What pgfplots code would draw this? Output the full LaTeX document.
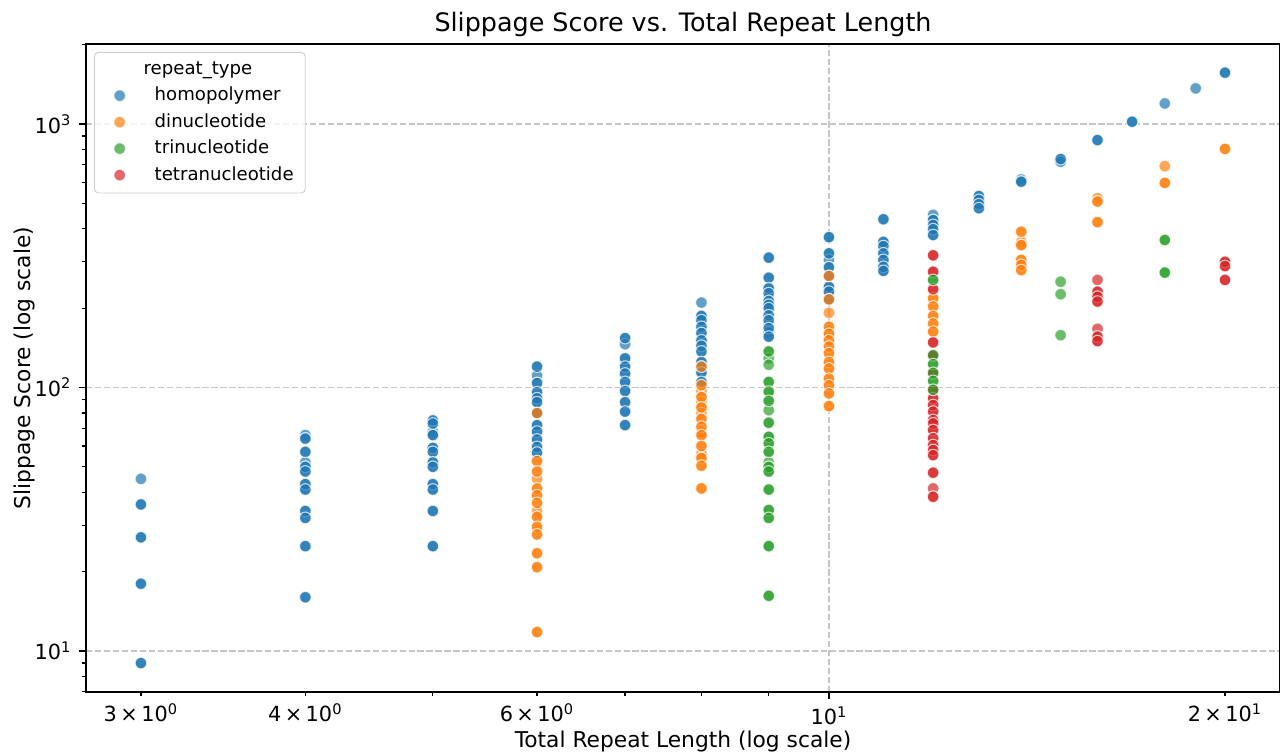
\documentclass[border=0pt]{standalone}
\usepackage{fontspec}
\setmainfont{DejaVu Sans}
\usepackage{pgfplots}
\usepackage{pgfplotstable}
\pgfplotsset{compat=1.18}
\definecolor{cblue}{HTML}{1F77B4}
\definecolor{corange}{HTML}{FF7F0E}
\definecolor{cgreen}{HTML}{2CA02C}
\definecolor{cred}{HTML}{D62728}

\pgfplotstableread{
x y d
3 45 0
3 36 1
3 27 1
3 18 1
3 9 1
4 66 0
4 64 1
4 57 1
4 52 0
4 50 1
4 48 1
4 43 1
4 41 1
4 34 1
4 32 1
4 25 1
4 16 1
5 75 1
5 73 1
5 68 0
5 66 1
5 59 1
5 57 1
5 52 1
5 50 1
5 43 1
5 41 1
5 34 1
5 25 1
6 120 1
6 111 0
6 104 1
6 96 1
6 91 1
6 88 1
6 80 1
6 72 1
6 68 1
6 63.5 1
6 59.5 1
6 56.6 1
7 154 1
7 146 0
7 129 1
7 120 1
7 113 1
7 105 1
7 97 1
7 88 1
7 81 1
7 72 1
8 210 0
8 187 1
8 180 1
8 170 1
8 161 1
8 151 1
8 144 1
8 137 1
8 125 1
8 120 1
8 114 1
8 105 1
9 311 1
9 261 1
9 238 1
9 228 1
9 220 0
9 213 1
9 206 1
9 200 1
9 188 1
9 180 1
9 174 0
9 168 1
9 162 0
9 156 1
10 372 1
10 323 1
10 305 0
10 286 1
10 265 1
10 241 1
10 231 1
10 216 1
11 435 1
11 357 1
11 344 1
11 323 1
11 305 1
11 287 1
11 277 1
12 452 0
12 432 1
12 414 1
12 399 1
12 379 1
13 533 1
13 515 1
13 496 1
13 479 1
14 616 0
14 604 1
15 736 1
15 719 0
16 869 1
17 1020 1
18 1197 0
19 1365 0
20 1566 1
}\homotab

\pgfplotstableread{
x y d
6 80 1
6 52.6 1
6 48 1
6 45 0
6 41.4 1
6 39 1
6 36.5 1
6 34 0
6 32.3 1
6 29.6 1
6 27.7 1
6 23.5 1
6 20.8 1
6 11.8 1
8 120 1
8 102 1
8 97 0
8 92 1
8 88 0
8 84 1
8 80 0
8 76 1
8 71 1
8 68 0
8 66 1
8 60 1
8 56 0
8 54 1
8 50.5 1
8 41.4 1
10 265 1
10 216 1
10 192 0
10 170 1
10 165 0
10 160 1
10 151 1
10 143 1
10 135 1
10 125 1
10 118 1
10 108 1
10 102 1
10 95 1
10 85 1
12 218 1
12 203 1
12 187 1
12 175 1
12 163 1
14 390 1
14 357 0
14 347 1
14 305 1
14 292 1
14 279 1
16 523 0
16 508 1
16 424 1
18 692 0
18 598 1
20 804 1
}\ditab

\pgfplotstableread{
x y d
9 137 1
9 129 0
9 122 0
9 105 1
9 96.5 1
9 89 1
9 82 0
9 73.5 1
9 65 1
9 61.4 1
9 57 1
9 52 0
9 50 1
9 48 1
9 41 1
9 34.3 1
9 32 1
9 25 1
9 16.2 1
12 256 1
12 132.7 1
12 122.7 1
12 113.7 1
12 106 1
12 98 1
15 252 0
15 226 0
15 158 0
18 363 1
18 273 1
}\tritab

\pgfplotstableread{
x y d
12 317.5 1
12 275 1
12 236 1
12 148.3 1
12 132 1
12 113 1
12 98 1
12 91 1
12 85.8 1
12 81 1
12 75.3 1
12 73.1 1
12 69 1
12 64.2 1
12 60.5 1
12 57.9 1
12 55.4 1
12 47.5 1
12 41.4 0
12 38.5 1
16 256 0
16 231 1
16 221 1
16 212 1
16 167 0
16 156 1
16 150 1
20 300 1
20 289 1
20 256 1
}\tetratab

\pgfplotsset{
  pt/.style={only marks, mark=*, mark size=2.8pt,
    mark options={draw=white, line width=0.5pt, fill=#1, opacity=0.7}},
}

\begin{document}
\begin{tikzpicture}
\begin{axis}[
  name=ax,
  scale only axis,
  width=573.12pt, height=311.04pt,
  xmode=log, ymode=log,
  xmin=2.725, xmax=22.02, ymin=6.99, ymax=2012,
  axis line style={line width=0.8pt},
  tick align=outside, tick pos=left,
  major tick length=3.5pt, minor tick length=2pt,
  major tick style={line width=0.8pt, black},
  minor tick style={line width=0.6pt, black},
  xtick={10}, xticklabels={10\textsuperscript{1}},
  minor xtick={3,4,5,6,7,8,9,20},
  extra x ticks={3,4,6,20},
  extra x tick labels={3\,×\,10\textsuperscript{0},4\,×\,10\textsuperscript{0},6\,×\,10\textsuperscript{0},2\,×\,10\textsuperscript{1}},
  extra x tick style={xmajorgrids=false, major tick length=2pt, major tick style={line width=0.6pt, black}},
  ytick={10,100,1000},
  yticklabels={10\textsuperscript{1},10\textsuperscript{2},10\textsuperscript{3}},
  minor ytick={7,8,9,20,30,40,50,60,70,80,90,200,300,400,500,600,700,800,900,2000},
  grid=major,
  major grid style={dash pattern=on 3pt off 1.3pt, color=gray!45, line width=0.6pt},
  tick label style={font=\fontsize{10}{12}\selectfont},
  label style={font=\fontsize{10.45}{12.5}\selectfont},
  title={Slippage Score vs. Total Repeat Length},
  every axis title/.style={at={(axis description cs:0.5,1)}, anchor=base, yshift=6pt, font=\fontsize{12.2}{14}\selectfont},
  xlabel={Total Repeat Length (log scale)},
  xlabel style={at={(axis description cs:0.5,0)}, anchor=base, yshift=-26.4pt},
  ylabel={Slippage Score (log scale)},
  ylabel style={at={(axis description cs:-0.0515,0.5)}, anchor=center},
  legend style={at={(0,1)}, anchor=north west, xshift=3.84pt, yshift=-3.84pt,
    draw=gray!40, rounded corners=2pt, fill=white, fill opacity=0.8, text opacity=1,
    font=\fontsize{8.7}{10.5}\selectfont, row sep=0.6pt, column sep=12pt, inner xsep=3.6pt, inner ysep=2.5pt},
  legend cell align=left,
]
\addlegendimage{empty legend}
\addlegendentry{\hspace*{-5.3pt}repeat\_type}
\addplot[pt=cblue] table[x=x,y=y] {\homotab};
\addlegendentry{homopolymer}
\addplot[pt=corange] table[x=x,y=y] {\ditab};
\addlegendentry{dinucleotide}
\addplot[pt=cgreen] table[x=x,y=y] {\tritab};
\addlegendentry{trinucleotide}
\addplot[pt=cred] table[x=x,y=y] {\tetratab};
\addlegendentry{tetranucleotide}
\addplot[pt=cblue, forget plot, restrict expr to domain={\thisrow{d}}{1:1}] table[x=x,y=y] {\homotab};
\addplot[pt=corange, forget plot, restrict expr to domain={\thisrow{d}}{1:1}] table[x=x,y=y] {\ditab};
\addplot[pt=cred, forget plot, restrict expr to domain={\thisrow{d}}{1:1}] table[x=x,y=y] {\tetratab};
\addplot[pt=cgreen, forget plot, restrict expr to domain={\thisrow{d}}{1:1}] table[x=x,y=y] {\tritab};
\end{axis}
\pgfresetboundingbox
\path[use as bounding box] ([xshift=-41.28pt,yshift=-28.8pt]ax.south west) rectangle ([yshift=21.12pt]ax.north east);
\end{tikzpicture}
\end{document}
